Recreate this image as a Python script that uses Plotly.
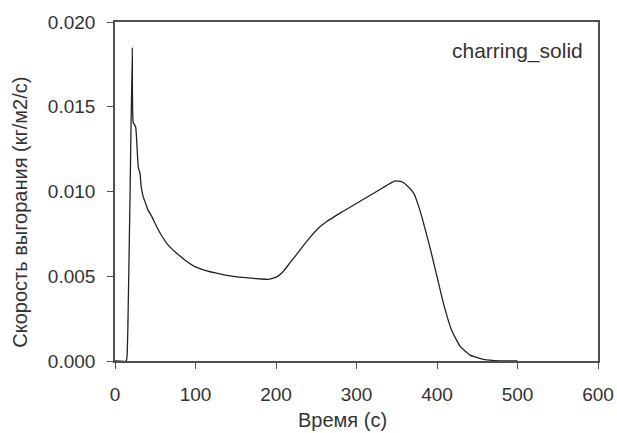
import plotly.graph_objects as go

# Data
time_s = [0, 14, 15, 16, 18.6, 21.5, 22.5, 25.7, 27.5, 29, 31, 32.5, 35, 38, 41,
          45.5, 50, 56, 65, 76.6, 88, 99.4, 112, 126, 147, 165, 180, 190, 201, 209,
          217, 225, 233, 242, 252, 263, 274, 284, 304, 325, 337, 348, 356, 364,
          371, 376, 381, 391, 400, 408, 418, 429, 441, 457.5, 478, 500]
burn_rate = [0, 0, 0.0003, 0.002, 0.0095, 0.0185, 0.0141, 0.0138, 0.0125, 0.0114,
             0.0111, 0.0103, 0.0097, 0.0093, 0.0089, 0.00855, 0.0081, 0.00755,
             0.0069, 0.00636, 0.00592, 0.00557, 0.00535, 0.00518, 0.00499,
             0.0049, 0.00484, 0.00482, 0.00496, 0.00528, 0.00577, 0.00625,
             0.00675, 0.00728, 0.0078, 0.00823, 0.00856, 0.00885, 0.00941, 0.0100,
             0.01035, 0.01063, 0.01058, 0.0103, 0.0099, 0.0093, 0.00853, 0.00675,
             0.00498, 0.0034, 0.00183, 0.00085, 0.00035, 0.0001, 0.00001, 0]
x_ticks = [0, 100, 200, 300, 400, 500, 600]
y_ticks = [0.000, 0.005, 0.010, 0.015, 0.020]
series_label = "charring_solid"
x_title = "Время (с)"
y_title = "Скорость выгорания (кг/м2/с)"

FONT = "Arial, Liberation Sans, sans-serif"
TXT = "#333333"
AX = "#505050"

fig = go.Figure()
fig.add_trace(go.Scatter(
    x=time_s, y=burn_rate, mode="lines",
    line=dict(color="#222222", width=1.3, shape="spline", smoothing=0.4),
    showlegend=False, hoverinfo="skip",
))

axis_common = dict(
    showline=True, linecolor=AX, linewidth=1.6, mirror=True,
    ticks="outside", ticklen=6, tickwidth=1.4, tickcolor=AX,
    showgrid=False, zeroline=False, automargin=False,
    tickfont=dict(family=FONT, size=19, color=TXT),
)

fig.update_xaxes(range=[0, 600], tickvals=x_ticks, ticklabelstandoff=9, **axis_common)
fig.update_yaxes(range=[0, 0.020], tickvals=y_ticks, tickformat=".3f",
                 ticklabelstandoff=8, **axis_common)

fig.update_layout(
    width=617, height=433,
    margin=dict(l=115, r=19, t=22, b=72),
    paper_bgcolor="white", plot_bgcolor="white",
    font=dict(family=FONT, color=TXT),
    annotations=[
        dict(text=series_label, xref="paper", yref="paper", x=0.973, y=0.914,
             xanchor="right", yanchor="middle", showarrow=False,
             font=dict(family=FONT, size=21, color=TXT)),
        dict(text=x_title, xref="paper", yref="paper", x=0.471, y=-0.175,
             xanchor="center", yanchor="middle", showarrow=False,
             font=dict(family=FONT, size=20, color=TXT)),
        dict(text=y_title, xref="paper", yref="paper", x=-0.197, y=0.44,
             xanchor="center", yanchor="middle", textangle=-90, showarrow=False,
             font=dict(family=FONT, size=20, color=TXT)),
    ],
)

fig.write_html("out.html")
